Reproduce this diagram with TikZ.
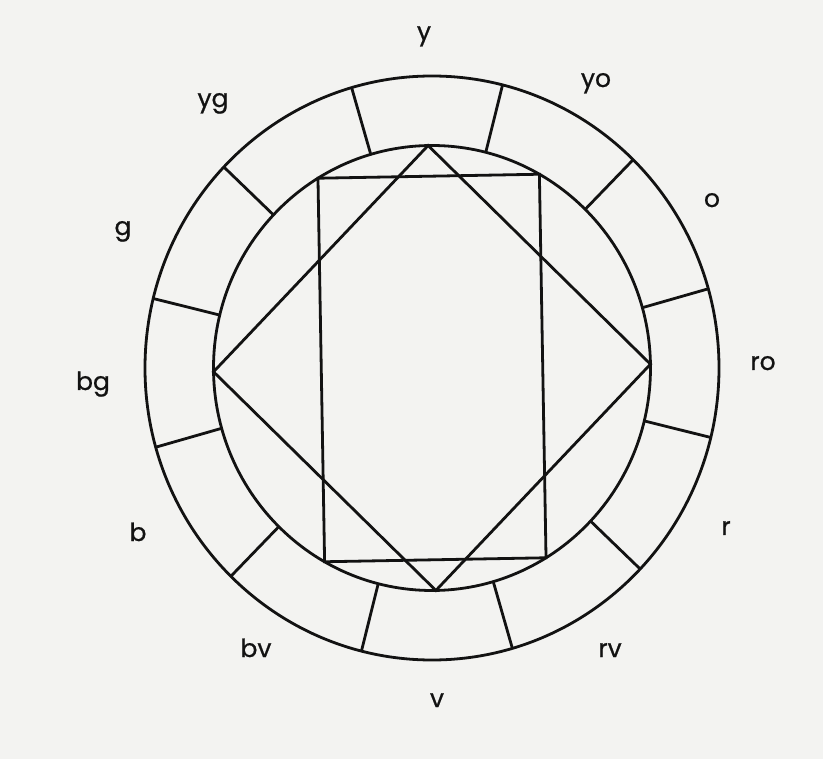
\documentclass[tikz,border=0pt]{standalone}
\usepackage{fontspec}
\setmainfont{Poppins}[FakeBold=0.8]
\usetikzlibrary{shapes.geometric}
\definecolor{WInk}{RGB}{18,18,18}
\definecolor{WPaper}{RGB}{243,243,241}

\begin{document}
\begin{tikzpicture}[x=1pt, y=1pt,
    every node/.style={inner sep=0pt, outer sep=0pt},
    ring/.style={draw=WInk, line width=2.8pt, ellipse},
    edge/.style={draw=WInk, line width=2.8pt},
    hue/.style={font=\fontsize{25}{29}\selectfont, text=WInk, anchor=base},
  ]
  % Paper
  \path[fill=WPaper, use as bounding box] (0,0) rectangle (823,-759);
  % Outer and inner circles
  \node[ring, minimum width=574pt, minimum height=584pt] (outer) at (432,-368) {};
  \node[ring, minimum width=437pt, minimum height=445pt] (inner) at (432,-368) {};
  % Dividers between the twelve hues
  \draw[edge] (inner.16.3) -- (outer.16.3);
  \draw[edge] (inner.46.3) -- (outer.46.3);
  \draw[edge] (inner.76.3) -- (outer.76.3);
  \draw[edge] (inner.106.3) -- (outer.106.3);
  \draw[edge] (inner.136.3) -- (outer.136.3);
  \draw[edge] (inner.166.3) -- (outer.166.3);
  \draw[edge] (inner.196.3) -- (outer.196.3);
  \draw[edge] (inner.226.3) -- (outer.226.3);
  \draw[edge] (inner.256.3) -- (outer.256.3);
  \draw[edge] (inner.286.3) -- (outer.286.3);
  \draw[edge] (inner.316.3) -- (outer.316.3);
  \draw[edge] (inner.346.3) -- (outer.346.3);
  % Square (diamond) and rectangle in the inner circle
  \draw[edge] (inner.91.3) -- (inner.1.3) -- (inner.271.3) -- (inner.181.3) -- cycle;
  \draw[edge] (inner.61.3) -- (inner.121.3) -- (inner.241.3) -- (inner.301.3) -- cycle;
  % Hue names
  \node[hue] (hy)  at (424,-40)  {y};
  \node[hue] (hyo) at (596,-87)  {yo};
  \node[hue] (ho)  at (712,-207) {o};
  \node[hue] (hro) at (763,-370) {ro};
  \node[hue] (hr)  at (726,-535) {r};
  \node[hue] (hrv) at (610,-657) {rv};
  \node[hue] (hv)  at (437,-707) {v};
  \node[hue] (hbv) at (256,-657) {bv};
  \node[hue] (hb)  at (138,-541) {b};
  \node[hue] (hbg) at (93,-390)  {bg};
  \node[hue] (hg)  at (123,-235) {g};
  \node[hue] (hyg) at (213,-107) {yg};
\end{tikzpicture}
\end{document}
